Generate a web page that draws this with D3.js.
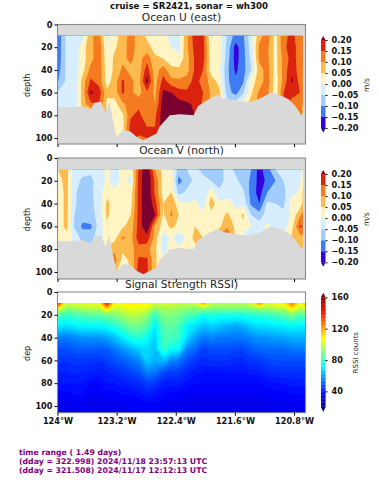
<!DOCTYPE html>
<html><head><meta charset="utf-8">
<script src="https://cdn.jsdelivr.net/npm/d3@7"></script>
<style>html,body{margin:0;padding:0;background:#fff}svg{display:block}text{font-family:"DejaVu Sans",sans-serif}</style>
</head><body><svg id="c" width="379" height="480"></svg>
<script>
// ---- DATA ----
const columnLons = [-123.99,-123.88,-123.77,-123.66,-123.55,-123.44,-123.33,-123.23,-123.12,-123.01,-122.9,-122.79,-122.68,-122.57,-122.46,-122.36,-122.25,-122.14,-122.03,-121.92,-121.81,-121.7,-121.59,-121.49,-121.38,-121.27,-121.16,-121.05,-120.94,-120.83,-120.72,-120.61];
const velocityDepths = [10,20,30,40,50,60,70,80,90,100];
const rssiDepths = [10,14,20,30,40,50,60,70,80,90,100,106];
const bottomLons = [-124,-123.8,-123.66,-123.55,-123.5,-123.41,-123.35,-123.3,-123.24,-123.2,-123.11,-123.02,-122.93,-122.84,-122.66,-122.62,-122.48,-122.34,-122.16,-122.1,-121.96,-121.83,-121.76,-121.47,-121.38,-121.25,-121.11,-120.96,-120.87,-120.78,-120.7,-120.64];
const bottomDepths = [73,73,72,75,69,68,78,68,88,99,93,94,99,102,96,90,80,79,80,72,66,62,65,68,68,65,60,63,66,72,80,74];
const uValues = [
[-13,-13,-13,-12,-10,-4,-3,-3,-3,-3],
[-4,-4,-4,-4,-4,-4,-4,-4,-4,-4],
[-3,-3,-3,-3,-3,-3,-3,-3,-3,-3],
[-2,3,3,3,7,7,7,3,3,3],
[9,8,8,12,16,21,14,3,3,3],
[12,14,14,14,13,18,15,14,14,14],
[-1,0,1,2,3,6,4,4,3,3],
[3,4,6,6,7,7,3,2,3,3],
[7,8,9,11,16,16,9,4,3,4],
[12,12,11,9,11,11,12,14,17,18],
[8,8,8,7,8,8,13,17,18,14],
[4,7,13,18,22,14,11,10,15,15],
[2,3,6,7,8,9,10,14,15,15],
[1,2,5,13,17,21,23,23,23,23],
[-1,0,3,6,12,20,22,23,23,23],
[-2,-1,1,6,11,17,22,23,23,23],
[9,9,8,8,12,16,21,23,23,23],
[18,17,16,16,17,18,19,20,20,20],
[17,17,17,15,13,15,14,14,14,14],
[-1,1,2,2,8,9,9,9,9,9],
[3,3,2,1,3,6,7,3,3,3],
[-6,-7,-8,-9,-9,-8,-3,-2,-2,-2],
[-12,-17,-17,-16,-14,-12,-3,1,1,1],
[-11,-12,-12,-12,-11,-6,2,2,2,2],
[-2,-2,-4,-5,3,4,7,3,3,3],
[8,11,11,8,7,11,12,12,12,12],
[13,11,11,12,13,11,10,10,10,10],
[3,3,3,3,2,2,4,5,5,5],
[14,14,12,12,12,15,16,15,15,15],
[16,17,17,19,21,16,14,14,14,14],
[13,13,13,12,13,15,13,12,12,12],
[10,10,10,9,8,4,4,4,4,4]];
const vValues = [
[5,3,1,1,1,1,1,1,1,1],
[7,7,7,7,7,7,2,2,2,2],
[-3,-3,-4,-4,-5,-6,-1,-1,-1,-1],
[-3,-6,-8,-8,-8,-11,-7,-5,-5,-5],
[-4,-6,-6,-6,-6,-11,-7,-3,-3,-3],
[-2,-3,-3,-3,-4,-3,-2,3,3,3],
[1,1,4,6,6,4,2,6,8,6],
[-1,-2,1,3,2,2,3,9,13,6],
[1,1,2,1,3,4,11,6,3,2],
[1,-1,2,3,5,7,8,8,6,5],
[16,17,17,17,17,17,18,13,16,18],
[25,25,25,25,25,25,18,12,16,16],
[10,14,14,17,20,9,8,6,6,6],
[3,3,3,5,4,3,-3,-2,1,1],
[2,3,5,9,11,6,1,2,2,2],
[-7,-12,-7,2,5,4,-4,1,1,1],
[-5,-7,-4,0,3,3,1,1,1,1],
[-4,-4,-2,1,3,5,7,3,3,3],
[-6,-4,-4,-2,1,3,5,5,5,5],
[-7,-5,3,8,3,1,2,2,2,2],
[-7,-7,-4,1,3,4,12,12,12,12],
[-3,-3,-2,2,6,9,18,18,18,18],
[-6,-4,-4,-1,1,4,4,4,4,4],
[-5,-7,-4,-1,6,4,-2,-2,-2,-2],
[-10,-11,-12,-11,-5,0,-5,-3,-3,-3],
[-17,-17,-17,-15,-8,-2,-3,-2,-2,-2],
[-12,-14,-10,-4,-2,1,1,1,1,1],
[-5,-10,-8,-5,-4,-2,1,1,1,1],
[-3,-5,-6,-6,-4,-2,1,1,1,1],
[-2,-2,-2,3,1,3,6,1,1,1],
[-4,-1,1,2,9,16,8,6,6,6],
[9,13,13,13,15,13,8,8,8,8]];
const rssiValues = [
[135,108,84,70,56,48,45,42,40,37,34,34],
[102,92,80,68,54,48,44,42,40,37,34,34],
[104,94,82,70,56,50,45,43,40,38,35,35],
[105,96,84,72,58,50,45,42,40,38,35,35],
[106,98,85,72,58,50,45,42,38,36,34,34],
[106,98,85,72,58,50,44,41,38,36,34,34],
[140,116,88,74,60,50,46,42,40,37,35,35],
[107,100,90,77,64,54,48,43,40,37,35,35],
[108,103,94,82,70,58,50,45,41,38,35,35],
[110,106,98,88,76,62,53,47,42,38,36,36],
[110,104,98,88,78,66,56,49,43,39,36,36],
[108,104,92,84,74,68,66,56,46,41,37,37],
[102,92,80,70,66,64,62,54,45,40,37,37],
[102,96,90,84,82,80,64,48,41,38,35,35],
[102,96,90,86,82,74,56,46,41,37,35,35],
[100,94,88,82,80,72,54,46,41,37,35,35],
[100,92,84,72,68,56,48,43,39,36,34,34],
[100,92,82,68,60,52,45,41,38,36,34,34],
[120,94,74,64,54,46,43,40,38,36,34,34],
[100,90,78,66,56,48,44,40,38,36,34,34],
[98,90,76,64,54,48,44,40,38,36,34,34],
[98,90,76,62,54,48,44,40,38,36,34,34],
[98,90,76,60,54,47,43,40,38,36,34,34],
[98,90,76,62,54,47,43,40,38,36,34,34],
[102,92,78,66,56,50,45,41,38,36,34,34],
[122,96,78,68,58,52,45,41,38,36,34,34],
[104,94,80,68,58,52,47,43,39,37,34,34],
[108,98,82,70,60,52,48,44,40,37,35,35],
[108,98,84,70,60,52,48,44,40,37,35,35],
[126,112,90,72,62,54,48,44,41,38,35,35],
[106,98,84,70,62,54,48,44,41,38,35,35],
[126,104,86,72,62,54,48,44,41,38,35,35]];
const velocityLevels = [-0.20,-0.15,-0.10,-0.05,0,0.05,0.10,0.15,0.20];
const velocityColors = ['#1e0096','#3500e0','#3f7cf3','#a0cdfc','#d6eeff','#fff5c4','#fdbb4f','#f47b20','#d9230f','#7a0030'];
const lonTicks = [-124,-123.2,-122.4,-121.6,-120.8];
const depthTicks = [0,20,40,60,80,100];
const rssiTicks = [40,80,120,160];
const titles = ['Ocean U (east)','Ocean V (north)','Signal Strength RSSI)'];
const footer = ['time range ( 1.49 days)','(dday = 322.998) 2024/11/18 23:57:13 UTC','(dday = 321.508) 2024/11/17 12:12:13 UTC'];

// ---- LAYOUT ----
const svg = d3.select('#c');
const L = 57.5, R = 305.5, DATA_R = 303;
const x = d3.scaleLinear().domain([-124,-120.645]).range([L,R]);
const SP = '#8a8a8a';
const jet = t => {
  const c = v => Math.round(255*Math.max(0,Math.min(1,1.5-Math.abs(4*t-v))));
  return `rgb(${c(3)},${c(2)},${c(1)})`;
};
const rssiCol = v => jet((v-20)/140);
const TF = 8.2;
function fmtLon(v){ return Math.abs(v)+'°W'; }

function panel(i, opt){
  const g = svg.append('g');
  const y = d3.scaleLinear().domain([0,opt.yBottom]).range([opt.top,opt.bottom]);
  const rows = opt.depths;
  const grid = opt.values;
  const nc = grid.length, nr = rows.length;
  const flat = [];
  for(let r=0;r<nr;r++) for(let c=0;c<nc;c++) flat.push(grid[c][r]*opt.factor);
  const colScale = d3.scaleLinear().domain(d3.range(nc)).range(columnLons);
  const rowScale = d3.scaleLinear().domain(d3.range(nr)).range(rows);
  const path = d3.geoPath(d3.geoTransform({point(a,b){
    const aa=a-0.5, bb=b-0.5;
    const lon = aa<0 ? columnLons[0]+aa*0.11 : aa>nc-1 ? columnLons[nc-1]+(aa-nc+1)*0.11 : colScale(aa);
    const dep = bb<0 ? rows[0]+bb*5 : bb>nr-1 ? rows[nr-1]+(bb-nr+1)*5 : rowScale(bb);
    this.stream.point(x(lon), y(dep));
  }}));
  const clipId = 'clip'+i;
  const topData = y(10), right = opt.fullWidth ? R : DATA_R;
  svg.append('clipPath').attr('id',clipId).append('rect')
    .attr('x',L).attr('y',topData).attr('width',right-L).attr('height',opt.bottom-topData);
  g.append('rect').attr('x',L).attr('y',opt.top).attr('width',R-L).attr('height',opt.bottom-opt.top)
    .attr('fill',opt.bg);
  const d = g.append('g').attr('clip-path',`url(#${clipId})`);
  d.append('rect').attr('x',L).attr('y',topData).attr('width',right-L).attr('height',opt.bottom-topData)
    .attr('fill',opt.colors[0]);
  const cont = d3.contours().size([nc,nr]).thresholds(opt.levels)(flat);
  d.selectAll('path.b').data(cont).join('path').attr('class','b')
    .attr('d',path).attr('fill',(c,k)=>opt.colors[k+1]).attr('stroke',(c,k)=>opt.colors[k+1]).attr('stroke-width',opt.fine?0.4:0);
  if(opt.bathy){
    const area = d3.area().x(k=>x(bottomLons[k])).y0(opt.bottom).y1(k=>y(bottomDepths[k]));
    d.append('path').attr('d',area(d3.range(bottomLons.length))).attr('fill',opt.bg);
  }
  g.append('rect').attr('x',L).attr('y',opt.top).attr('width',R-L).attr('height',opt.bottom-opt.top)
    .attr('fill','none').attr('stroke',SP).attr('stroke-width',1.1);
  const ay = g.append('g').attr('transform',`translate(${L},0)`)
    .call(d3.axisLeft(y).tickValues(depthTicks).tickSize(3).tickPadding(2));
  ay.select('.domain').remove();
  ay.selectAll('text').attr('font-size',TF).attr('font-weight','bold').attr('fill','#111').attr('font-family','"DejaVu Sans"');
  const ax = g.append('g').attr('transform',`translate(0,${opt.bottom})`)
    .call(d3.axisBottom(x).tickValues(lonTicks).tickSize(3).tickPadding(2).tickFormat(opt.showLon?fmtLon:''));
  ax.select('.domain').remove();
  ax.selectAll('text').attr('font-size',TF).attr('font-weight','bold').attr('fill','#111').attr('font-family','"DejaVu Sans"');
  g.append('text').attr('x',(L+R)/2).attr('y',opt.top-4).attr('text-anchor','middle')
    .attr('font-size',10.6).attr('fill','#222').text(titles[i]);
  g.append('text').attr('transform',`translate(30,${(opt.top+opt.bottom)/2+1}) rotate(-90)`)
    .attr('text-anchor','middle').attr('font-size',8).attr('fill','#222').text(opt.yLabel);
}

function velocityBar(top0, bot0, yTip0, yTip1, lab){
  const cx0=321, cx1=325.5;
  const s = d3.scaleLinear().domain([-0.2,0.2]).range([bot0,top0]);
  const g = svg.append('g');
  velocityLevels.slice(0,-1).forEach((l,k)=>{
    g.append('rect').attr('x',cx0).attr('width',cx1-cx0).attr('y',s(velocityLevels[k+1])).attr('height',s(l)-s(velocityLevels[k+1]))
      .attr('fill',velocityColors[k+1]);
  });
  g.append('path').attr('d',d3.line()([[cx0,top0],[(cx0+cx1)/2,yTip0],[cx1,top0]])+'Z').attr('fill',velocityColors[9]);
  g.append('path').attr('d',d3.line()([[cx0,bot0],[(cx0+cx1)/2,yTip1],[cx1,bot0]])+'Z').attr('fill',velocityColors[0]);
  const a = g.append('g').attr('transform',`translate(${cx1},0)`)
    .call(d3.axisRight(s).tickValues(velocityLevels).tickSize(2).tickPadding(4).tickFormat(d=>d3.format('.2f')(d).replace('-','\u2212')));
  a.select('.domain').remove();
  a.selectAll('text').attr('font-size',TF).attr('font-weight','bold').attr('fill','#111').attr('font-family','"DejaVu Sans"');
  g.append('text').attr('transform',`translate(369,${(top0+bot0)/2+1}) rotate(-90)`).attr('text-anchor','middle')
    .attr('font-size',7.6).attr('fill','#222').text(lab);
}
function rssiBar(){
  const cx0=321,cx1=325.5;
  const s = d3.scaleLinear().domain([20,160]).range([407,297.3]);
  const g = svg.append('g');
  d3.range(20,160,1).forEach(v=>{
    g.append('rect').attr('x',cx0).attr('width',cx1-cx0).attr('y',s(v+1)).attr('height',s(v)-s(v+1)+0.3).attr('fill',rssiCol(v+0.5));
  });
  g.append('path').attr('d',d3.line()([[cx0,297.3],[(cx0+cx1)/2,292.7],[cx1,297.3]])+'Z').attr('fill','#7f0000');
  g.append('path').attr('d',d3.line()([[cx0,407],[(cx0+cx1)/2,412],[cx1,407]])+'Z').attr('fill','#00007f');
  const a = g.append('g').attr('transform',`translate(${cx1},0)`)
    .call(d3.axisRight(s).tickValues(rssiTicks).tickSize(2).tickPadding(4));
  a.select('.domain').remove();
  a.selectAll('text').attr('font-size',TF).attr('font-weight','bold').attr('fill','#111').attr('font-family','"DejaVu Sans"');
  g.append('text').attr('transform',`translate(358,352.7) rotate(-90)`).attr('text-anchor','middle')
    .attr('font-size',7).attr('fill','#222').text('RSSI counts');
}

panel(0,{top:24.5,bottom:144,yBottom:105.3,values:uValues,factor:0.01,depths:velocityDepths,levels:velocityLevels,colors:velocityColors,bg:'#d9d9d9',bathy:true,yLabel:'depth'});
panel(1,{top:158,bottom:279,yBottom:106.2,values:vValues,factor:0.01,depths:velocityDepths,levels:velocityLevels,colors:velocityColors,bg:'#d9d9d9',bathy:true,yLabel:'depth'});
const rssiLevels = d3.range(20,160,2);
panel(2,{top:292,bottom:412.7,yBottom:105.9,values:rssiValues,factor:1,depths:rssiDepths,levels:rssiLevels,colors:[rssiCol(20)].concat(rssiLevels.map(v=>rssiCol(v+1))),bg:'#fff',bathy:false,fullWidth:true,fine:true,yLabel:'dep',showLon:true});
velocityBar(40,128,36,132.7,'m/s');
velocityBar(174,262.3,170,266.7,'m/s');
rssiBar();

svg.append('text').attr('x',189).attr('y',9).attr('text-anchor','middle').attr('font-size',8.6).attr('font-weight','bold').attr('fill','#111').text('cruise = SR2421,  sonar = wh300');
footer.forEach((t,k)=>svg.append('text').attr('x',19).attr('y',455+k*9).attr('font-size',7.75).attr('font-weight','bold').attr('fill','#800080').text(t));
</script></body></html>
